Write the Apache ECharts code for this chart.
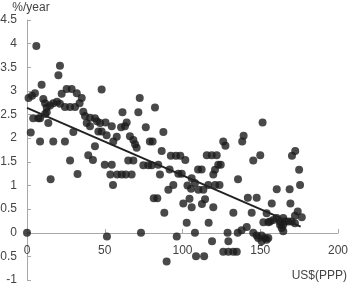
<!DOCTYPE html>
<html><head><meta charset="utf-8">
<script src="https://cdn.jsdelivr.net/npm/echarts@6/dist/echarts.min.js"></script>
<style>html,body{margin:0;padding:0;background:#fff}#c{width:357px;height:292px}</style>
</head><body><div id="c"></div>
<script>
var xTicks = [0, 50, 100, 150, 200];
var yTicks = [-1, -0.5, 0, 0.5, 1, 1.5, 2, 2.5, 3, 3.5, 4, 4.5];
var xName = 'US$(PPP)';
var yName = '%/year';
// scatter points: [income, growth]
var pointsX = [
 0,6,21.2,20.2,9.4,48,25.5,28.7,22.3,32,1,3.2,5.1,10.5,35.2,11.6,12.7,16.9,19.3,21.2,14.8,24.4,27.7,30.9,33.8,12.7,11.6,36.2,37.3,4,7.3,8.4,38.4,40.5,43.7,45,13.7,47,50.5,40.5,45.9,48,29.8,2.4,51.2,54.5,57.7,8.4,16.9,24.4,55.5,43.7,39.4,42.4,27.7,32.5,15.2,50,54.5,53.6,58,55.3,51.4,
 72.5,61.4,71.6,82.3,64.1,63,60.5,76.4,87.7,66.2,68.4,69.5,70.5,79,80.8,86.6,92.5,95.8,98.6,101.8,65.1,68.4,115.6,118.8,122,126.2,127.6,74.8,78,80.2,84.4,91.7,97.3,99.5,105.9,110,112.3,120.9,123,124.6,119.8,60.9,63.5,67.3,85.5,94.1,90.9,103.2,105.5,108,110.2,113.4,116.6,121,123.8,81.5,83.8,104.5,100.5,114.5,112.5,88.3,105.9,119.8,102.7,116.8,73.3,96.3,108,119,108.7,113.9,89.8,
 151.5,139.3,138.4,172.5,170.4,150,145.5,175,135.7,175.6,160.6,168.9,142,147.7,157.4,169.4,174.1,172.3,176.7,132.7,144.5,154.1,155.2,152,156.3,158.4,160.6,162.7,164.8,165.9,162.7,164.8,163.8,164.8,168,170.2,172.3,129,135.5,138,141.3,145.5,147.7,150.9,153,155.2,129.5,126.2,129.5,132.7,134.9,148.7,150.9,154.1
];
var pointsY = [
 0,3.95,3.53,3.33,3.13,3.03,3.04,3.04,2.94,2.95,2.85,2.9,2.95,2.83,2.85,2.74,2.65,2.74,2.77,2.73,2.69,2.66,2.66,2.66,2.74,2.55,2.51,2.56,2.47,2.42,2.42,2.42,2.32,2.43,2.42,2.36,2.32,2.32,2.33,2.25,2.14,2.14,2.13,2.12,2.06,2.25,2.03,1.93,1.93,1.93,1.93,1.83,1.64,1.54,1.53,1.24,1.13,1.44,1.44,1.23,1.23,1.01,-0.08,
 2.85,2.55,2.55,2.65,2.33,2.25,2.23,2.23,2.13,2.04,1.96,1.87,1.8,1.93,1.93,1.73,1.63,1.63,1.63,1.54,1.53,1.53,1.64,1.64,1.64,1.93,1.84,1.43,1.43,1.43,1.44,1.34,1.25,1.25,1.15,1.34,1.34,1.33,1.44,1.44,1.23,1.23,1.23,1.23,1.23,1.01,0.91,1.0,0.93,1.05,0.91,0.91,1.01,1.01,1.01,0.73,0.73,0.72,0.62,0.71,0.61,0.42,0.54,0.54,0.21,0.21,0.0,-0.08,0.0,-0.18,-0.5,-0.5,-0.61,
 2.33,2.05,1.93,1.73,1.63,1.64,1.53,1.33,1.13,1.01,0.92,0.92,0.74,0.74,0.62,0.62,0.45,0.36,0.33,0.42,0.42,0.41,0.22,0.22,0.24,0.27,0.31,0.24,0.31,0.24,0.17,0.17,0.1,0.03,0.24,0.24,0.2,0.0,0.0,0.05,0.12,0.0,-0.06,-0.06,-0.11,-0.11,-0.18,-0.4,-0.4,-0.4,-0.4,-0.11,-0.18,-0.15
];
var trendX = [0, 176];
var trendY = [2.64, 0.13];

var pts = pointsX.map(function(x, i){ return [x, pointsY[i]]; });
var trend = trendX.map(function(x, i){ return [x, trendY[i]]; });

var FONT = '"Liberation Sans", Arial, sans-serif';
var FS = 12;
var axisGray = '#a8a8a8';
var chart = echarts.init(document.getElementById('c'), null, {renderer: 'canvas'});
chart.setOption({
  animation: false,
  backgroundColor: '#fff',
  grid: {left: 27, right: 19, top: 20, bottom: 12, containLabel: false, outerBoundsMode: 'none'},
  xAxis: {
    type: 'value', min: xTicks[0], max: xTicks[xTicks.length-1], interval: 50,
    position: 'bottom', offset: -47,
    axisLine: {show: true, onZero: false, lineStyle: {color: axisGray, width: 1}},
    axisTick: {show: true, inside: true, length: 4, lineStyle: {color: axisGray}},
    axisLabel: {show: true, margin: 12, color: '#444', fontSize: FS, fontFamily: FONT},
    splitLine: {show: false},
    name: xName, nameLocation: 'end', nameGap: 9,
    nameTextStyle: {color: '#444', fontSize: FS, fontFamily: FONT, align: 'right', verticalAlign: 'top', padding: [37, 0, 0, 0]}
  },
  yAxis: {
    type: 'value', min: yTicks[0], max: yTicks[yTicks.length-1], interval: 0.5,
    axisLine: {show: true, onZero: false, lineStyle: {color: axisGray, width: 1}},
    axisTick: {show: true, inside: true, length: 4, lineStyle: {color: axisGray}},
    axisLabel: {show: true, margin: 10, color: '#444', fontSize: FS, fontFamily: FONT},
    splitLine: {show: false},
    name: yName, nameLocation: 'end', nameGap: 6,
    nameTextStyle: {color: '#444', fontSize: FS, fontFamily: FONT, align: 'center', padding: [0, 0, 0, 8]}
  },
  series: [
    {type: 'scatter', data: pts, symbol: 'circle', symbolSize: 8, itemStyle: {color: '#1c1c1c'}, z: 3},
    {type: 'line', data: trend, symbol: 'none', lineStyle: {color: '#222', width: 2}, z: 4}
  ]
});
</script></body></html>
